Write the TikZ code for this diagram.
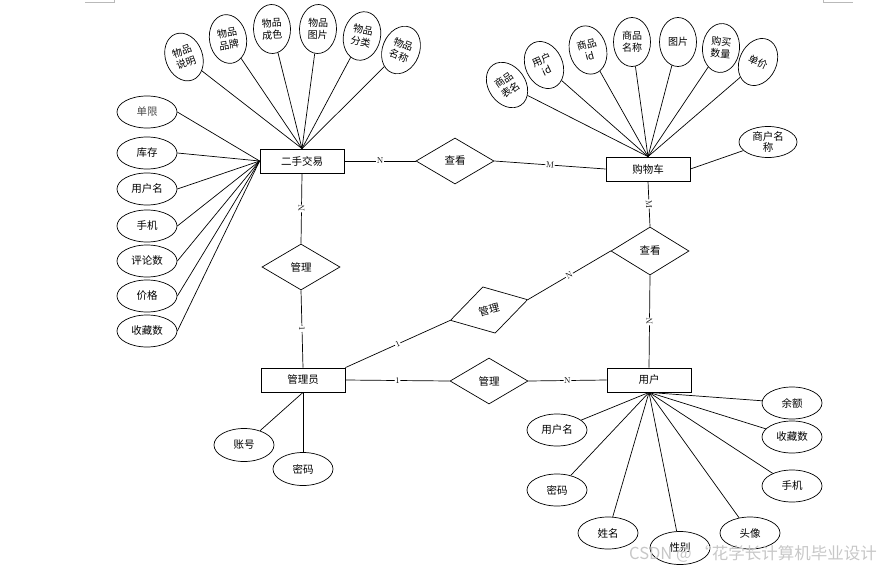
\documentclass[tikz,border=0pt]{standalone}
\usepackage{fontspec}
\newfontfamily\cjk{Noto Sans CJK SC}
\usetikzlibrary{shapes.geometric}
\begin{document}
\begin{tikzpicture}[x=1pt,y=-1pt,
  txt/.style={font=\cjk\fontsize{10.5}{12.5}\selectfont},
  entity/.style={draw,line width=0.8pt,minimum width=84pt,minimum height=24pt,inner sep=0pt,txt},
  rel/.style={draw,diamond,line width=0.7pt,minimum width=78pt,minimum height=46pt,inner sep=0pt,txt},
  attr/.style={draw,ellipse,line width=0.7pt,minimum width=60pt,minimum height=32pt,inner sep=0pt,align=center,txt},
  vattr/.style={draw,ellipse,line width=0.7pt,minimum width=37pt,minimum height=49pt,inner sep=0pt,align=center,font=\cjk\fontsize{10}{12}\selectfont},
  link/.style={line width=0.7pt},
  card/.style={fill=white,inner sep=0.6pt,font=\fontsize{8.5}{9}\selectfont,sloped},
  pagemark/.style={gray!55,line width=0.6pt}]
\useasboundingbox (0,0) rectangle (882,570);

% page margin marks
\coordinate (m1) at (85,2.5);
\coordinate (m2) at (114,2.5);
\coordinate (m3) at (114,0);
\coordinate (m4) at (823,0);
\coordinate (m5) at (823,2.5);
\coordinate (m6) at (853,2.5);
\draw[pagemark] (m1) -- (m2) -- (m3);
\draw[pagemark] (m4) -- (m5) -- (m6);

% entities
\node[entity] (e1) at (302,161) {二手交易};
\node[entity] (e2) at (648,169) {购物车};
\node[entity] (e3) at (303,380) {管理员};
\node[entity] (e4) at (649,380) {用户};

% relationships
\node[rel] (r1) at (455,161) {查看};
\node[rel] (r2) at (301,267) {管理};
\node[rel,minimum height=48pt] (r3) at (650,251) {查看};
\node[rel,minimum width=80pt,minimum height=48pt,rotate=15] (r4) at (489,310) {管理};
\node[rel] (r5) at (489,381) {管理};

% relationship links
\draw[link] (e1.east) -- node[card] {N} (r1.west);
\draw[link] (r1.east) -- node[card] {M} (e2.west);
\draw[link] (e1.south) -- node[card] {N} (r2.north);
\draw[link] (r2.south) -- node[card] {1} (e3.north);
\draw[link] (e2.south) -- node[card] {M} (r3.north);
\draw[link] (r3.south) -- node[card] {N} (e4.north);
\draw[link] (r3.west) -- node[card] {N} (r4.east);
\draw[link] (r4.west) -- node[card] {1} (e3.north east);
\draw[link] (e3.east) -- node[card] {1} (r5.west);
\draw[link] (r5.east) -- node[card] {N} (e4.west);

% attributes of 二手交易 (top)
\node[vattr,rotate=20] (a1) at (184,57) {物品\\说明};
\node[vattr,rotate=10] (a2) at (228,39) {物品\\品牌};
\node[vattr,rotate=2] (a3) at (272,29) {物品\\成色};
\node[vattr,rotate=-2] (a4) at (318,29) {物品\\图片};
\node[vattr,rotate=-12] (a5) at (362,36) {物品\\分类};
\node[vattr,rotate=-22] (a6) at (401,50) {物品\\名称};
\foreach \n in {a1,a2,a3,a4,a5,a6} \draw[link] (e1.north) -- (\n);

% attributes of 二手交易 (left)
\node[attr] (b1) at (147,112) {\textcolor{black!70}{单限}};
\node[attr] (b2) at (147,153) {库存};
\node[attr] (b3) at (147,189) {用户名};
\node[attr] (b4) at (147,226) {手机};
\node[attr] (b5) at (147,261) {评论数};
\node[attr] (b6) at (147,296) {价格};
\node[attr] (b7) at (147,331) {收藏数};
\foreach \n in {b1,b2,b3,b4,b5,b6,b7} \draw[link] (e1.west) -- (\n.east);

% attributes of 购物车
\node[vattr,rotate=35] (c1) at (507,85) {商品\\表名};
\node[vattr,rotate=25] (c2) at (544,65) {用户\\id};
\node[vattr,rotate=15] (c3) at (588,50) {商品\\id};
\node[vattr] (c4) at (632,42) {商品\\名称};
\node[vattr] (c5) at (678,42) {图片};
\node[vattr,rotate=-5] (c6) at (721,48) {购买\\数量};
\node[vattr,rotate=-25] (c7) at (758,62) {单价};
\foreach \n in {c1,c2,c3,c4,c5,c6,c7} \draw[link] (e2.north) -- (\n);
\node[attr,minimum width=58pt,minimum height=31pt,font=\cjk\fontsize{10.5}{11.5}\selectfont] (c8) at (768,142) {商户名\\称};
\draw[link] (e2.east) -- (c8);

% attributes of 管理员
\node[attr,minimum height=33pt] (d1) at (244,445) {账号};
\node[attr,minimum height=33pt] (d2) at (303,469) {密码};
\foreach \n in {d1,d2} \draw[link] (e3.south) -- (\n);

% attributes of 用户
\node[attr] (f1) at (557,430) {用户名};
\node[attr] (f2) at (557,490) {密码};
\node[attr] (f3) at (608,533) {姓名};
\node[attr,minimum height=33pt] (f4) at (680,548) {性别};
\node[attr] (f5) at (750,533) {头像};
\node[attr] (f6) at (792,486) {手机};
\node[attr] (f7) at (792,437) {收藏数};
\node[attr] (f8) at (792,403) {余额};
\foreach \n in {f1,f2,f3,f4,f5,f6,f7,f8} \draw[link] (e4.south) -- (\n);

% watermark
\node[text=black!22,font=\cjk\fontsize{16.5}{18}\selectfont,inner sep=0pt] (wm) at (753,554) {CSDN @ “花学长计算机毕业设计};
\end{tikzpicture}
\end{document}
